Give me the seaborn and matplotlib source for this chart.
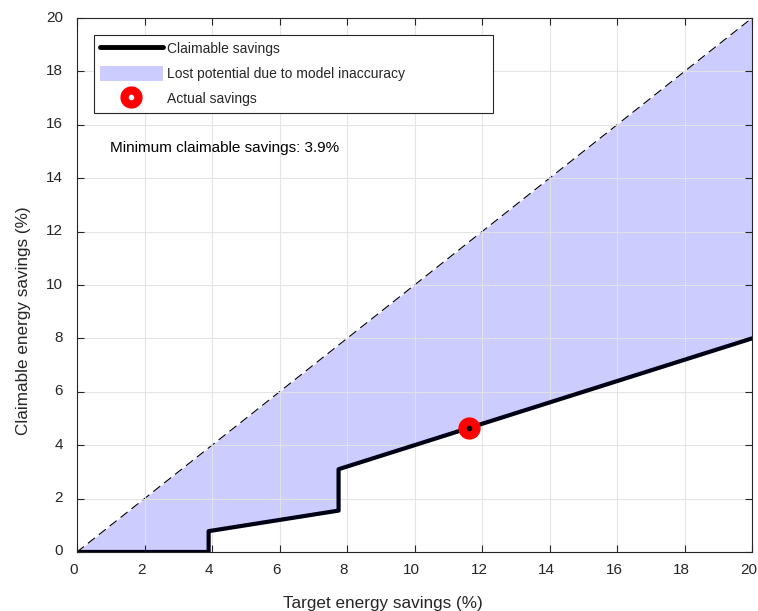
import numpy as np
import pandas as pd
import matplotlib
matplotlib.use("Agg")
import matplotlib.pyplot as plt
from matplotlib.lines import Line2D
from matplotlib.patches import Patch
from matplotlib.transforms import ScaledTranslation
import seaborn as sns

# Claimable savings curve (breakpoints of the stepped line)
target = [0.0, 3.9, 3.9, 7.75, 7.75, 20.0]
claimable = [0.0, 0.0, 0.78, 1.55, 3.1, 8.0]
# Ideal line: claimable equals target
ideal_x = [0.0, 20.0]
ideal_y = [0.0, 20.0]
# Actual savings point
actual_x = [11.6]
actual_y = [4.64]
min_claimable = 3.9

sns.set_style("ticks")
plt.rcParams["font.family"] = ["Liberation Sans", "DejaVu Sans"]

fig = plt.figure(figsize=(7.58, 6.11), dpi=100)
ax = fig.add_axes([0.1016, 0.0966, 0.8905, 0.8739])

# Shaded region between ideal line and claimable curve
ideal_interp = np.interp(target, ideal_x, ideal_y)
ax.fill_between(target, claimable, ideal_interp, color="#ccccff", linewidth=0, zorder=1)

df_ideal = pd.DataFrame({"x": ideal_x, "y": ideal_y})
sns.lineplot(data=df_ideal, x="x", y="y", ax=ax, color="black", linewidth=0.8,
             dashes=False, zorder=2).lines[-1].set_dashes([8, 4.5])

df_claim = pd.DataFrame({"x": target, "y": claimable})
sns.lineplot(data=df_claim, x="x", y="y", ax=ax, sort=False, estimator=None,
             color="#000014", linewidth=3.0, zorder=3)

ax.plot(actual_x, actual_y, "o", color="red", markersize=15, zorder=4)
ax.plot(actual_x, actual_y, "o", color="black", markersize=3, zorder=5)

ax.set_xlim(0, 20)
ax.set_ylim(0, 20)
ax.set_xticks(np.arange(0, 21, 2))
ax.set_yticks(np.arange(0, 21, 2))
ax.grid(True, color="#e3e3e3", linewidth=0.8, zorder=0)
ax.set_axisbelow(False)
for gl in ax.get_xgridlines() + ax.get_ygridlines():
    gl.set_zorder(1.5)
    gl.set_alpha(0.9)
ax.tick_params(direction="in", top=True, right=True, length=5, width=0.8,
               labelsize=11, colors="#262626")
ax.tick_params(axis="x", pad=8)
ax.tick_params(axis="y", pad=10)
for s in ax.spines.values():
    s.set_visible(True)
    s.set_color("#262626")
    s.set_linewidth(0.8)
    s.set_zorder(6)

# small nudge of tick labels
for lab in ax.get_xticklabels():
    lab.set_transform(lab.get_transform() + ScaledTranslation(-3 / 100, 0, fig.dpi_scale_trans))
for lab in ax.get_yticklabels():
    lab.set_transform(lab.get_transform() + ScaledTranslation(0, 2 / 100, fig.dpi_scale_trans))

ax.set_xlabel("Target energy savings (%)", fontsize=12.3, color="#262626")
ax.set_ylabel("Claimable energy savings (%)", fontsize=12.3, color="#262626")
ax.xaxis.set_label_coords(0.4526, -0.082)
ax.yaxis.set_label_coords(-0.068, 0.434)

ax.text(0.049, 0.757, f"Minimum claimable savings: {min_claimable}%",
        transform=ax.transAxes, fontsize=11, color="black", va="center", ha="left")

handles = [
    Line2D([], [], color="black", linewidth=3.5),
    Patch(facecolor="#ccccff", edgecolor="none"),
    (Line2D([], [], marker="o", color="red", markersize=15, linestyle="none"),
     Line2D([], [], marker="o", color="white", markersize=3, linestyle="none")),
]
labels = ["Claimable savings", "Lost potential due to model inaccuracy", "Actual savings"]
leg = ax.legend(handles, labels, loc="upper left",
                bbox_to_anchor=(0.025, 0.968 - 0.156, 0.591, 0.156), mode="expand",
                borderaxespad=0, fontsize=10, handlelength=4.5, handleheight=1.25,
                handletextpad=0.3, labelspacing=0.72, borderpad=0.45,
                frameon=True, fancybox=False, framealpha=1, edgecolor="#262626")
leg.get_frame().set_linewidth(0.8)
leg.set_zorder(7)

fig.savefig("out.png", dpi=100)
